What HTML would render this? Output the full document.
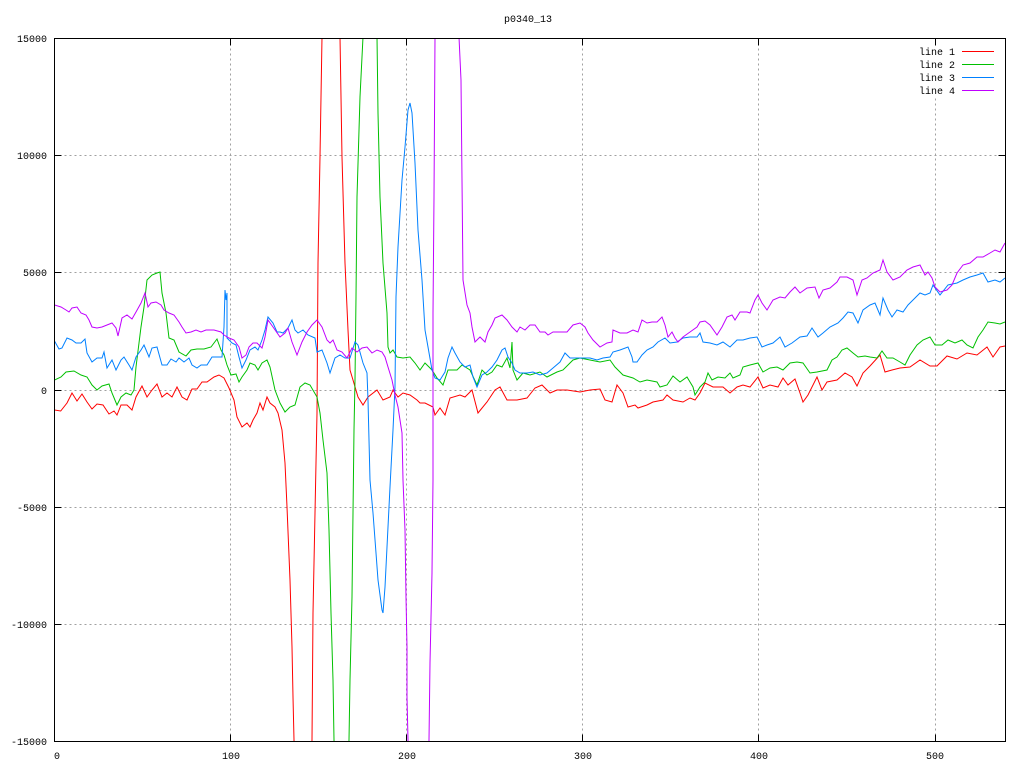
<!DOCTYPE html>
<html><head><meta charset="utf-8"><style>
html,body{margin:0;padding:0;background:#fff;}
svg{display:block;}
text{font-family:"Liberation Mono",monospace;font-size:10px;fill:#000;}
</style></head><body>
<svg width="1024" height="768" viewBox="0 0 1024 768" xmlns="http://www.w3.org/2000/svg">
<rect width="1024" height="768" fill="#fff"/>
<defs><clipPath id="c"><rect x="54.5" y="38.5" width="951" height="703"/></clipPath></defs>
<g stroke="#a0a0a0" stroke-width="1" stroke-dasharray="2 3" shape-rendering="crispEdges">
<line x1="230.5" y1="38.5" x2="230.5" y2="741.5"/>
<line x1="406.5" y1="38.5" x2="406.5" y2="741.5"/>
<line x1="582.5" y1="38.5" x2="582.5" y2="741.5"/>
<line x1="758.5" y1="38.5" x2="758.5" y2="741.5"/>
<line x1="935.5" y1="38.5" x2="935.5" y2="741.5"/>
<line x1="54.5" y1="155.5" x2="1005.5" y2="155.5"/>
<line x1="54.5" y1="272.5" x2="1005.5" y2="272.5"/>
<line x1="54.5" y1="390.5" x2="1005.5" y2="390.5"/>
<line x1="54.5" y1="507.5" x2="1005.5" y2="507.5"/>
<line x1="54.5" y1="624.5" x2="1005.5" y2="624.5"/>
</g>
<rect x="912" y="45" width="90" height="52" fill="#fff"/>
<g stroke="#000" stroke-width="1" shape-rendering="crispEdges">
<line x1="54.5" y1="38.5" x2="61.5" y2="38.5"/><line x1="998.5" y1="38.5" x2="1005.5" y2="38.5"/>
<line x1="54.5" y1="155.5" x2="61.5" y2="155.5"/><line x1="998.5" y1="155.5" x2="1005.5" y2="155.5"/>
<line x1="54.5" y1="272.5" x2="61.5" y2="272.5"/><line x1="998.5" y1="272.5" x2="1005.5" y2="272.5"/>
<line x1="54.5" y1="390.5" x2="61.5" y2="390.5"/><line x1="998.5" y1="390.5" x2="1005.5" y2="390.5"/>
<line x1="54.5" y1="507.5" x2="61.5" y2="507.5"/><line x1="998.5" y1="507.5" x2="1005.5" y2="507.5"/>
<line x1="54.5" y1="624.5" x2="61.5" y2="624.5"/><line x1="998.5" y1="624.5" x2="1005.5" y2="624.5"/>
<line x1="54.5" y1="741.5" x2="61.5" y2="741.5"/><line x1="998.5" y1="741.5" x2="1005.5" y2="741.5"/>
<line x1="230.5" y1="38.5" x2="230.5" y2="45.5"/><line x1="230.5" y1="734.5" x2="230.5" y2="741.5"/>
<line x1="406.5" y1="38.5" x2="406.5" y2="45.5"/><line x1="406.5" y1="734.5" x2="406.5" y2="741.5"/>
<line x1="582.5" y1="38.5" x2="582.5" y2="45.5"/><line x1="582.5" y1="734.5" x2="582.5" y2="741.5"/>
<line x1="758.5" y1="38.5" x2="758.5" y2="45.5"/><line x1="758.5" y1="734.5" x2="758.5" y2="741.5"/>
<line x1="935.5" y1="38.5" x2="935.5" y2="45.5"/><line x1="935.5" y1="734.5" x2="935.5" y2="741.5"/>
</g>
<g text-anchor="end">
<text x="47" y="42">15000</text>
<text x="47" y="159">10000</text>
<text x="47" y="276">5000</text>
<text x="47" y="394">0</text>
<text x="47" y="511">-5000</text>
<text x="47" y="628">-10000</text>
<text x="47" y="745">-15000</text>
</g>
<g text-anchor="middle">
<text x="57" y="759">0</text>
<text x="231" y="759">100</text>
<text x="407" y="759">200</text>
<text x="583" y="759">300</text>
<text x="759" y="759">400</text>
<text x="935" y="759">500</text>
<text x="528" y="22">p0340_13</text>
</g>
<g fill="none" stroke-width="1" clip-path="url(#c)" stroke-linejoin="miter">
<polyline stroke="#ff0000" points="54.5,410 60.7,411 67,403 72,393 77,401 82,394 87,402 92,409 97,404 103,405 109,414 114,411 117,415 121,405 127,405 132,410 136,397 142,386 147,397 152,390 157,384 162,397 167,393 172,397 177,387 182,397 187,400 192,389 197,389 202,382 207,382 214,377 219,375 224,378 229,388 234,400 237,417 242,427 247,423 250,427 253,420 257,413 260,403 263,410 267,397 270,403 275,407 278,413 282,430 285,463 287,507 290,580 292,647 293,697 294,740 296,800 310,800 312,740 313,613 315,513 317,413 318,263 320,157 322,37 324,-20 338,-20 340,37 342,157 345,263 348,330 350,370 353,380 358,397 363,405 368,397 377,390 383,400 390,397 393,390 398,397 403,393 410,395 417,400 420,403 425,403 433,407 435,415 440,408 445,415 450,398 460,395 465,397 472,390 478,413 487,402 495,390 500,387 507,400 517,400 527,398 535,388 542,385 550,393 557,390 567,390 580,392 590,390 600,389 605,400 612,402 617,385 623,393 628,407 635,405 638,408 647,405 653,402 663,400 667,395 673,400 683,402 690,398 695,400 700,393 705,383 713,387 723,387 730,393 737,387 743,385 750,387 758,377 763,388 770,385 778,387 783,378 788,385 795,379 800,393 803,402 808,395 817,377 822,390 827,382 837,380 845,373 852,377 857,386 863,373 870,366 880,355 885,372 892,370 900,368 910,367 920,360 930,366 937,366 947,356 957,359 967,353 977,355 987,347 993,357 1000,347 1005,346"/>
<polyline stroke="#00c000" points="54.5,380 61,377 66,372 74,371 81,375 87,377 92,385 97,390 102,386 109,384 112,393 117,405 121,397 126,393 131,395 134,390 136,367 139,343 141,327 144,307 147,280 152,275 157,273 160,272 162,293 166,313 169,338 174,340 179,352 186,356 191,350 197,349 204,349 211,347 217,339 221,350 224,355 227,365 231,375 236,374 239,382 242,377 247,370 250,363 255,365 258,370 262,363 267,360 270,367 275,390 280,403 285,412 290,407 295,405 300,387 305,383 310,385 317,397 320,413 323,440 327,473 329,530 331,613 333,680 334,740 336,800 347,800 349,740 350,680 352,597 353,513 354,430 355,380 356,297 357,197 360,97 363,37 365,-20 375,-20 377,37 378,113 380,197 383,263 387,313 388,347 390,353 393,350 397,357 403,358 410,357 415,363 420,370 425,363 432,370 437,378 443,385 448,370 457,370 462,365 470,370 477,385 482,370 487,375 492,372 497,365 502,367 507,358 510,368 512,342 513,370 517,380 523,373 530,375 540,372 547,377 557,372 563,370 573,360 580,358 590,360 600,362 610,360 615,367 623,375 633,378 640,382 647,380 657,382 660,387 667,385 673,376 680,382 687,377 693,387 695,395 700,387 705,382 708,373 712,380 718,377 725,378 730,373 733,378 740,375 743,367 750,365 758,363 763,372 770,368 777,367 783,370 790,363 797,362 803,363 810,373 817,372 827,370 832,360 837,357 842,350 847,348 853,353 858,357 865,356 870,357 877,358 882,351 887,358 893,358 900,362 905,365 910,355 917,345 923,340 930,337 935,345 942,345 948,340 955,343 962,340 967,345 973,348 978,337 983,330 988,322 995,323 1000,324 1005,322"/>
<polyline stroke="#0080ff" points="54.5,341 59,349 62,348 67,338 72,340 76,343 81,343 85,339 87,353 92,362 97,358 102,358 104,352 107,368 112,360 116,370 121,360 124,357 129,365 132,370 136,357 141,350 144,345 149,357 152,348 157,347 162,365 167,365 171,359 176,362 179,358 184,362 189,358 192,365 197,368 201,365 207,365 212,357 222,357 224,327 225,290 226,300 227,293 227,338 232,343 236,345 239,357 242,368 246,360 250,350 255,347 258,350 262,340 265,330 268,317 273,323 277,332 280,332 283,333 288,328 292,320 295,330 298,333 303,330 308,335 315,338 317,352 322,350 327,363 330,373 335,358 340,355 345,358 350,358 355,342 358,345 363,363 367,373 368,400 370,480 373,513 376,553 378,580 382,610 383,613 385,587 387,547 390,487 393,430 395,387 396,297 398,247 402,180 405,147 408,110 410,103 412,113 415,163 418,230 422,280 425,330 428,347 432,370 435,378 440,380 445,372 448,358 452,347 455,353 460,362 465,367 470,365 473,377 477,387 482,375 487,372 492,367 497,360 502,350 505,348 508,357 512,363 515,370 520,373 527,373 533,372 540,375 547,373 553,368 560,362 565,353 570,358 577,358 583,358 590,358 597,360 603,358 610,357 613,352 620,350 628,347 632,357 633,362 637,362 642,355 647,350 653,347 658,342 665,338 670,343 677,342 683,338 690,337 697,337 700,333 703,342 710,343 717,345 723,342 730,347 737,340 743,340 750,338 757,337 762,347 767,345 773,343 780,337 785,347 792,343 800,337 807,336 812,328 818,337 823,333 830,327 838,323 843,318 848,312 853,313 858,323 863,310 870,305 875,303 880,315 883,298 888,310 892,317 897,310 903,312 908,305 913,300 920,293 925,295 930,293 933,285 940,295 948,285 957,283 963,280 970,277 977,275 983,273 988,282 995,280 1000,282 1005,278"/>
<polyline stroke="#c000ff" points="54.5,305 61,307 66,310 69,312 72,308 77,307 81,313 86,315 89,320 92,327 97,328 102,327 107,325 112,323 116,328 118,336 122,318 127,315 132,319 136,312 141,303 145,293 148,307 151,303 156,302 161,305 164,310 169,313 174,315 179,322 182,327 186,333 191,332 196,330 201,332 206,330 211,330 214,330 221,332 224,335 229,338 234,340 239,347 242,358 246,355 249,347 253,343 257,343 262,348 265,337 268,320 273,327 280,337 285,333 288,328 292,342 297,355 302,342 307,332 312,325 317,320 322,327 327,340 330,343 333,340 337,350 342,352 347,358 352,348 357,352 362,348 367,347 372,353 377,350 382,352 385,357 388,367 392,380 395,395 398,407 402,433 403,480 405,530 406,597 407,647 407,697 408,740 409,800 428,800 429,740 430,663 432,573 433,480 433,380 433,313 434,197 435,37 436,-20 458,-20 459,37 461,80 462,180 463,280 467,305 470,313 472,327 475,342 480,337 485,342 488,332 492,325 495,318 502,315 507,320 512,327 517,332 520,327 525,330 530,325 535,325 540,332 545,332 548,335 553,332 560,332 567,332 573,325 580,323 585,327 588,333 593,340 600,347 607,343 612,342 613,330 620,333 627,333 633,330 638,332 642,320 647,323 652,322 657,322 662,317 665,325 668,337 672,332 675,338 678,342 683,337 690,332 697,327 700,322 705,321 710,325 717,335 722,327 727,317 732,315 735,320 740,312 747,312 750,313 755,300 758,295 762,303 767,310 773,300 780,297 785,298 790,292 795,287 800,293 807,288 815,287 819,298 823,290 830,288 837,282 840,277 847,277 853,280 857,295 862,280 867,278 873,273 880,270 883,260 887,272 893,280 900,277 907,270 913,267 920,265 925,275 928,272 932,278 935,287 940,292 947,290 952,285 957,273 963,265 970,263 977,257 983,257 990,253 995,250 1000,252 1005,243"/>
</g>
<rect x="54.5" y="38.5" width="951" height="703" fill="none" stroke="#000" stroke-width="1" shape-rendering="crispEdges"/>
<g text-anchor="end">
<text x="955" y="55">line 1</text>
<text x="955" y="68">line 2</text>
<text x="955" y="81">line 3</text>
<text x="955" y="94">line 4</text>
</g>
<g stroke-width="1" shape-rendering="crispEdges">
<line x1="962" y1="51.5" x2="994" y2="51.5" stroke="#ff0000"/>
<line x1="962" y1="64.5" x2="994" y2="64.5" stroke="#00c000"/>
<line x1="962" y1="77.5" x2="994" y2="77.5" stroke="#0080ff"/>
<line x1="962" y1="90.5" x2="994" y2="90.5" stroke="#c000ff"/>
</g>
</svg>
</body></html>
